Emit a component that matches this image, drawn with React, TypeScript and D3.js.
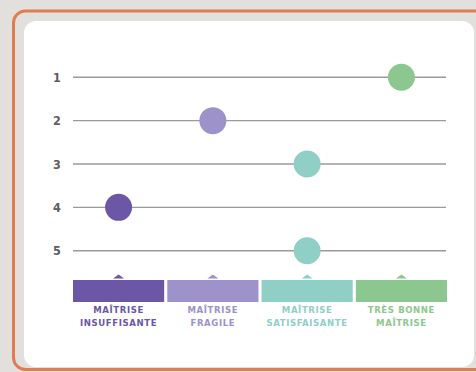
import React from "react";
import * as d3 from "d3";

const rows = ["1", "2", "3", "4", "5"];
const levelOfRow = [4, 2, 3, 1, 3];
const levels = [1, 2, 3, 4];
const levelLine1 = ["MAÎTRISE", "MAÎTRISE", "MAÎTRISE", "TRÈS BONNE"];
const levelLine2 = ["INSUFFISANTE", "FRAGILE", "SATISFAISANTE", "MAÎTRISE"];
const levelColors = ["#6b57a5", "#9d92c9", "#8fcfc6", "#8dc790"];

const W = 476;
const H = 372;

export default function App() {
  const x = d3.scaleBand<number>().domain(levels).range([73, 447]).paddingInner(0.033);
  const y = d3.scalePoint<string>().domain(rows).range([77.3, 250.7]);
  const bw = x.bandwidth();
  const cx = (l: number) => (x(l) as number) + bw / 2;
  const font = "DejaVu Sans Condensed, DejaVu Sans, sans-serif";
  return (
    <svg width={W} height={H} style={{ position: "absolute", left: 0, top: 0, display: "block" }}>
      <rect x={0} y={0} width={W} height={H} fill="#e1e0dd" />
      <rect x={13.5} y={11} width={480} height={358.5} rx={12} fill="#e1e0dd" stroke="#e17c52" strokeWidth={3} />
      <rect x={24} y={21} width={450} height={346} rx={12} fill="#ffffff" />
      {rows.map((r) => (
        <g key={r}>
          <text x={57} y={y(r)} dy="0.36em" textAnchor="middle" fontFamily={font} fontWeight="bold" fontSize={12.5} fill="#5e5e5e">{r}</text>
          <line x1={73} x2={446} y1={y(r)} y2={y(r)} stroke="#9a9a9a" strokeWidth={1.4} />
        </g>
      ))}
      {rows.map((r, i) => (
        <circle key={"c" + r} cx={cx(levelOfRow[i])} cy={y(r)} r={13.5} fill={levelColors[levelOfRow[i] - 1]} />
      ))}
      {levels.map((l, i) => (
        <g key={"b" + l}>
          <path d={`M${cx(l) - 5.5},278.5 L${cx(l) + 5.5},278.5 L${cx(l)},274.5 Z`} fill={levelColors[i]} />
          <rect x={x(l)} y={280} width={bw} height={22} fill={levelColors[i]} />
          <text x={cx(l)} y={313} textAnchor="middle" fontFamily={font} fontWeight="bold" fontSize={9.5} letterSpacing={0.6} fill={levelColors[i]}>{levelLine1[i]}</text>
          <text x={cx(l)} y={325.8} textAnchor="middle" fontFamily={font} fontWeight="bold" fontSize={9.5} letterSpacing={0.6} fill={levelColors[i]}>{levelLine2[i]}</text>
        </g>
      ))}
    </svg>
  );
}
